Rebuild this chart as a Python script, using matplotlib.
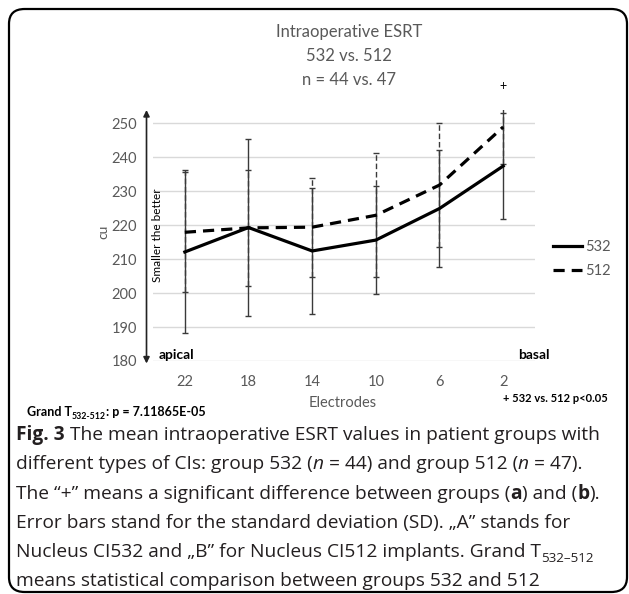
import matplotlib
matplotlib.use('Agg')
import matplotlib.pyplot as plt
from matplotlib.patches import FancyBboxPatch
from matplotlib.lines import Line2D
import numpy as np

# values
electrodes = ['22', '18', '14', '10', '6', '2']
mean_532 = [212.1, 219.3, 212.4, 215.6, 224.9, 237.4]
sd_532 = [24.0, 26.0, 18.6, 16.0, 17.3, 15.5]
mean_512 = [217.9, 219.2, 219.4, 222.9, 231.8, 248.9]
sd_512 = [17.6, 17.0, 14.6, 18.2, 18.3, 10.9]
significant = [False, False, False, False, False, True]
y_ticks = [180, 190, 200, 210, 220, 230, 240, 250]

W, H = 629, 594
fig = plt.figure(figsize=(W / 100, H / 100), dpi=100)

def fx(px):
    return px / W

def fy(py):
    return 1 - py / H

GRAY = '#595959'
CHART_FONT = 'Lato'
CAP_FONT = 'Open Sans'

# rounded frame round the whole figure
frame = FancyBboxPatch((fx(9), fy(592)), fx(627) - fx(9), fy(9) - fy(592),
                       boxstyle='round,pad=0,rounding_size=0.025',
                       transform=fig.transFigure, fill=False, ec='black', lw=1.6)
fig.patches.append(frame)

ax = fig.add_axes([fx(153), fy(361), fx(535) - fx(153), (361 - 110) / H])
x = np.arange(len(electrodes))

e1 = ax.errorbar(x, mean_532, yerr=sd_532, fmt='none', ecolor='#3a3a3a',
                 elinewidth=1, capsize=2.5, capthick=1)
e2 = ax.errorbar(x, mean_512, yerr=sd_512, fmt='none', ecolor='#3a3a3a',
                 elinewidth=1, capsize=2.5, capthick=1)
e2[2][0].set_linestyle((0, (4, 2)))

ax.plot(x, mean_532, color='black', lw=2.3, label='532')
ax.plot(x, mean_512, color='black', lw=2.3, ls=(0, (3.5, 2.2)), label='512')

for i, s in enumerate(significant):
    if s:
        ax.text(x[i], 261, '+', ha='center', va='center', fontsize=9,
                fontfamily=CHART_FONT, clip_on=False)

ax.set_xlim(-0.5, len(electrodes) - 0.5)
ax.set_ylim(180, 253.9)
ax.set_yticks(y_ticks)
ax.set_xticks(x, electrodes)
ax.yaxis.grid(True, color='#d9d9d9', lw=1)
ax.set_axisbelow(True)
for sp in ax.spines.values():
    sp.set_visible(False)
ax.tick_params(axis='both', length=0, colors=GRAY, labelsize=10.5)
ax.tick_params(axis='y', pad=11.5)
ax.tick_params(axis='x', pad=10)
for lab in ax.get_xticklabels() + ax.get_yticklabels():
    lab.set_fontfamily(CHART_FONT)

# double arrow along the y axis
ax.annotate('', xy=(-0.017, 1.0), xytext=(-0.017, -0.01), xycoords='axes fraction',
            arrowprops=dict(arrowstyle='<|-|>', color='#222222', lw=1.2,
                            mutation_scale=9, shrinkA=0, shrinkB=0))
ax.text(-0.003, 0.5, 'Smaller the better', transform=ax.transAxes, rotation=90,
        ha='left', va='center', fontsize=8.5, fontfamily=CHART_FONT)
ax.text(0.016, 181.8, 'apical', transform=ax.get_yaxis_transform(), ha='left',
        va='center', fontsize=10, fontweight='bold', fontfamily=CHART_FONT)
ax.text(1.038, 181.8, 'basal', transform=ax.get_yaxis_transform(), ha='right',
        va='center', fontsize=10, fontweight='bold', fontfamily=CHART_FONT)

fig.text(fx(103), fy(232), 'cu', rotation=90, ha='center', va='center',
         fontsize=10, color=GRAY, fontfamily=CHART_FONT)
fig.text(fx(343), fy(403), 'Electrodes', ha='center', va='center',
         fontsize=10.5, color=GRAY, fontfamily=CHART_FONT)

title_lines = ['Intraoperative ESRT', '532 vs. 512', 'n = 44 vs. 47']
for k, t in enumerate(title_lines):
    fig.text(fx(349), fy(32 + 24 * k), t, ha='center', va='center',
             fontsize=12, color=GRAY, fontfamily=CHART_FONT)

leg = fig.legend(handles=[Line2D([], [], color='black', lw=2.3),
                          Line2D([], [], color='black', lw=2.3, ls=(0, (3.5, 2.2)))],
                 labels=['532', '512'], loc='center left',
                 bbox_to_anchor=(fx(546), fy(259)), frameon=False,
                 handlelength=2.0, handletextpad=0.2, labelspacing=0.7,
                 borderpad=0, prop={'family': CHART_FONT, 'size': 10.5})
for t in leg.get_texts():
    t.set_color(GRAY)

fig.text(fx(503), fy(398), '+ 532 vs. 512 p<0.05', ha='left', va='center',
         fontsize=8, fontfamily=CHART_FONT, fontweight='bold')

renderer = fig.canvas.get_renderer()

def draw_runs(px, py, runs, size, family, color):
    xx = fx(px)
    for s, style in runs:
        kw = dict(fontsize=size, fontfamily=family, color=color, va='baseline')
        yy = fy(py)
        if 'bold' in style:
            kw['fontweight'] = 'bold'
        if 'italic' in style:
            kw['fontstyle'] = 'italic'
        if 'sub' in style:
            kw['fontsize'] = size * 0.7
            yy = fy(py + size * 0.35)
        t = fig.text(xx, yy, s, **kw)
        xx += t.get_window_extent(renderer).width / W

draw_runs(27, 416, [('Grand T', 'bold'), ('532-512', 'bold sub'),
                    (': p = 7.11865E-05', 'bold')], 9, CHART_FONT, 'black')

caption = [
    [('Fig. 3', 'bold'), (' The mean intraoperative ESRT values in patient groups with', '')],
    [('different types of CIs: group 532 (', ''), ('n', 'italic'), (' = 44) and group 512 (', ''),
     ('n', 'italic'), (' = 47).', '')],
    [('The \u201c+\u201d means a significant difference between groups (', ''), ('a', 'bold'),
     (') and (', ''), ('b', 'bold'), (').', '')],
    [('Error bars stand for the standard deviation (SD). \u201eA\u201d stands for', '')],
    [('Nucleus CI532 and \u201eB\u201d for Nucleus CI512 implants. Grand T', ''),
     ('532\u2013512', 'sub')],
    [('means statistical comparison between groups 532 and 512', '')],
]
for k, runs in enumerate(caption):
    draw_runs(16, 440 + 29.3 * k, runs, 13.8, CAP_FONT, '#231f20')

fig.savefig('out.png', dpi=100)
